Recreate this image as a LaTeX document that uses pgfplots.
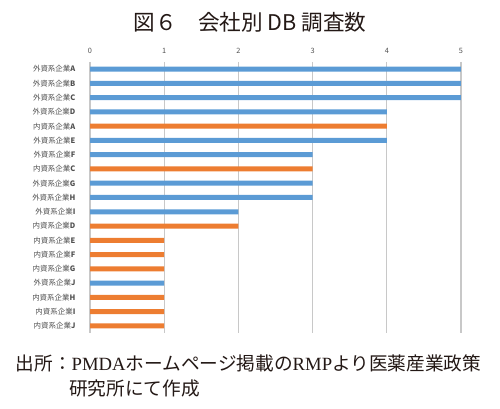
\documentclass[border=0pt]{standalone}
\usepackage{fontspec}
\setmainfont{Noto Sans CJK JP}
\newfontfamily\latinserif{Liberation Serif}
\usepackage{pgfplots}
\pgfplotsset{compat=1.18}
\definecolor{barblue}{RGB}{91,155,213}
\definecolor{barorange}{RGB}{237,125,49}
\definecolor{gridgray}{RGB}{200,200,200}
\definecolor{labelgray}{RGB}{80,80,80}
\definecolor{titleblack}{RGB}{35,24,21}

\begin{document}
\begin{tikzpicture}
\useasboundingbox (0,0) rectangle (375pt,306.75pt);

\node[text=titleblack, font=\fontsize{16.2}{16.2}\selectfont] at (187.5pt,290.25pt) {図６　会社別 DB 調査数};

\begin{axis}[
  at={(67.5pt,57pt)}, anchor=south west,
  width=278.25pt, height=203.25pt, scale only axis,
  xbar, bar width=0.35, bar shift=0pt,
  xmin=0, xmax=5, ymin=-0.5, ymax=18.5, y dir=reverse,
  xtick={0,1,2,3,4,5}, xticklabel pos=upper,
  xmajorgrids, major grid style={gridgray, line width=1pt},
  axis line style={draw=none}, tick style={draw=none},
  /pgf/number format/assume math mode=true,
  x tick label style={font=\fontsize{5.5}{5.5}\selectfont, text=labelgray, anchor=center, inner sep=0pt, yshift=8.25pt},
  ytick={0,...,18},
  yticklabels={外資系企業\textbf{A},外資系企業\textbf{B},外資系企業\textbf{C},外資系企業\textbf{D},
    内資系企業\textbf{A},外資系企業\textbf{E},外資系企業\textbf{F},内資系企業\textbf{C},
    外資系企業\textbf{G},外資系企業\textbf{H},外資系企業\textbf{I},内資系企業\textbf{D},
    内資系企業\textbf{E},内資系企業\textbf{F},内資系企業\textbf{G},外資系企業\textbf{J},
    内資系企業\textbf{H},内資系企業\textbf{I},内資系企業\textbf{J}},
  y tick label style={font=\fontsize{5.6}{5.6}\selectfont, text=labelgray, anchor=east, inner sep=0pt, xshift=-6.5pt},
]
% 外資系企業
\addplot[fill=barblue, draw=none] coordinates {
  (5,0) (5,1) (5,2) (4,3) (4,5) (3,6) (3,8) (3,9) (2,10) (1,15)
};
% 内資系企業
\addplot[fill=barorange, draw=none] coordinates {
  (4,4) (3,7) (2,11) (1,12) (1,13) (1,14) (1,16) (1,17) (1,18)
};
\end{axis}

\node[anchor=west, font=\fontsize{14}{14}\selectfont, text=titleblack] at (8.25pt,34.5pt)
  {出所：{\latinserif PMDA}ホームページ掲載の{\latinserif RMP}より医薬産業政策};
\node[anchor=west, font=\fontsize{14}{14}\selectfont, text=titleblack] at (48.4pt,15.75pt)
  {研究所にて作成};
\end{tikzpicture}
\end{document}
